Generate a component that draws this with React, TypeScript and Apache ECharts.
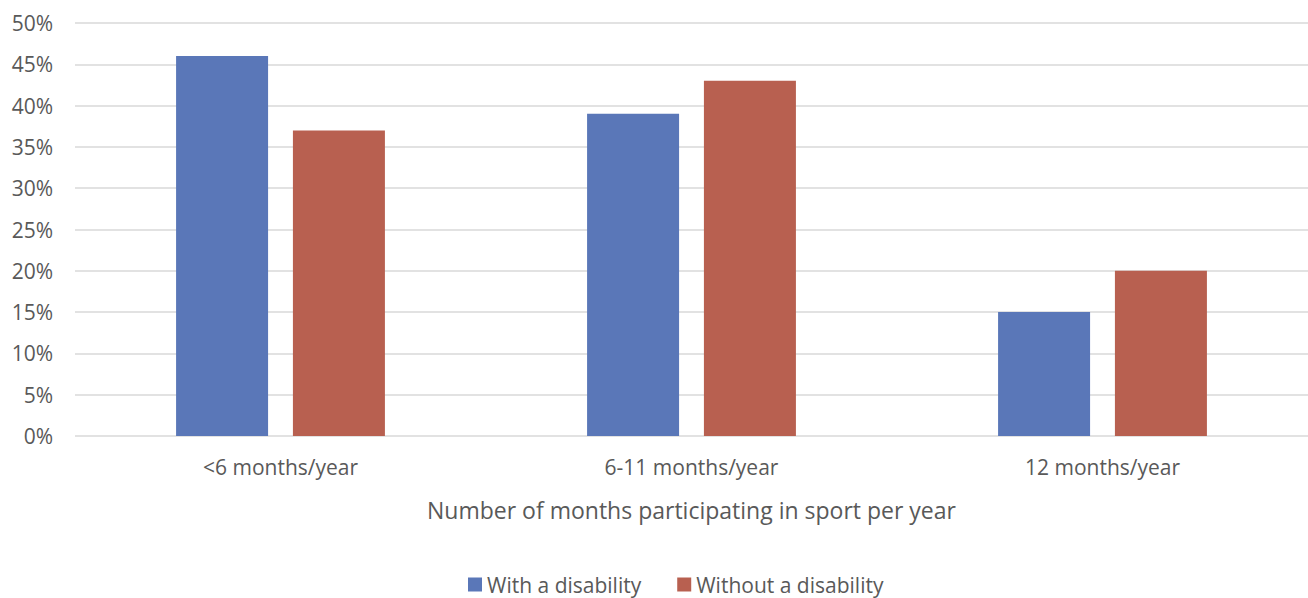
import React, { useEffect, useRef } from "react";
import * as echarts from "echarts";

const categories = ["<6 months/year", "6-11 months/year", "12 months/year"];
const withDisability = [46, 39, 15];
const withoutDisability = [37, 43, 20];
const seriesNames = ["With a disability", "Without a disability"];

export default function App() {
  const ref = useRef<HTMLDivElement>(null);
  useEffect(() => {
    document.body.style.margin = "0";
    const chart = echarts.init(ref.current!, null, { renderer: "svg" });
    const font = "Open Sans";
    chart.setOption({
      animation: false,
      textStyle: { fontFamily: font },
      grid: { left: 75, right: 0, top: 23, bottom: 162 },
      legend: {
        bottom: -2,
        left: 463,
        itemWidth: 14,
        itemHeight: 14,
        itemGap: 36,
        icon: "rect",
        textStyle: { fontSize: 21, color: "#595959", fontFamily: font },
        data: seriesNames,
      },
      xAxis: {
        type: "category",
        data: categories,
        axisLine: { show: false },
        axisTick: { show: false },
        axisLabel: { fontSize: 21, color: "#595959", margin: 20, fontFamily: font },
        name: "Number of months participating in sport per year",
        nameLocation: "middle",
        nameGap: 62,
        nameTextStyle: { fontSize: 23, color: "#595959", fontFamily: font },
      },
      yAxis: {
        type: "value",
        min: 0,
        max: 50,
        interval: 5,
        axisLabel: { formatter: "{value}%", fontSize: 21, color: "#595959", margin: 22, fontFamily: font },
        splitLine: { lineStyle: { color: "#d9d9d9", width: 1.5 } },
        axisLine: { show: false },
        axisTick: { show: false },
      },
      series: [
        {
          name: seriesNames[0],
          type: "bar",
          data: withDisability,
          barWidth: 92,
          barGap: "27%",
          itemStyle: { color: "#5a77b8" },
        },
        {
          name: seriesNames[1],
          type: "bar",
          data: withoutDisability,
          barWidth: 92,
          barGap: "27%",
          itemStyle: { color: "#b86050" },
        },
      ],
    });
    return () => chart.dispose();
  }, []);
  return <div ref={ref} style={{ width: 1308, height: 598 }} />;
}
